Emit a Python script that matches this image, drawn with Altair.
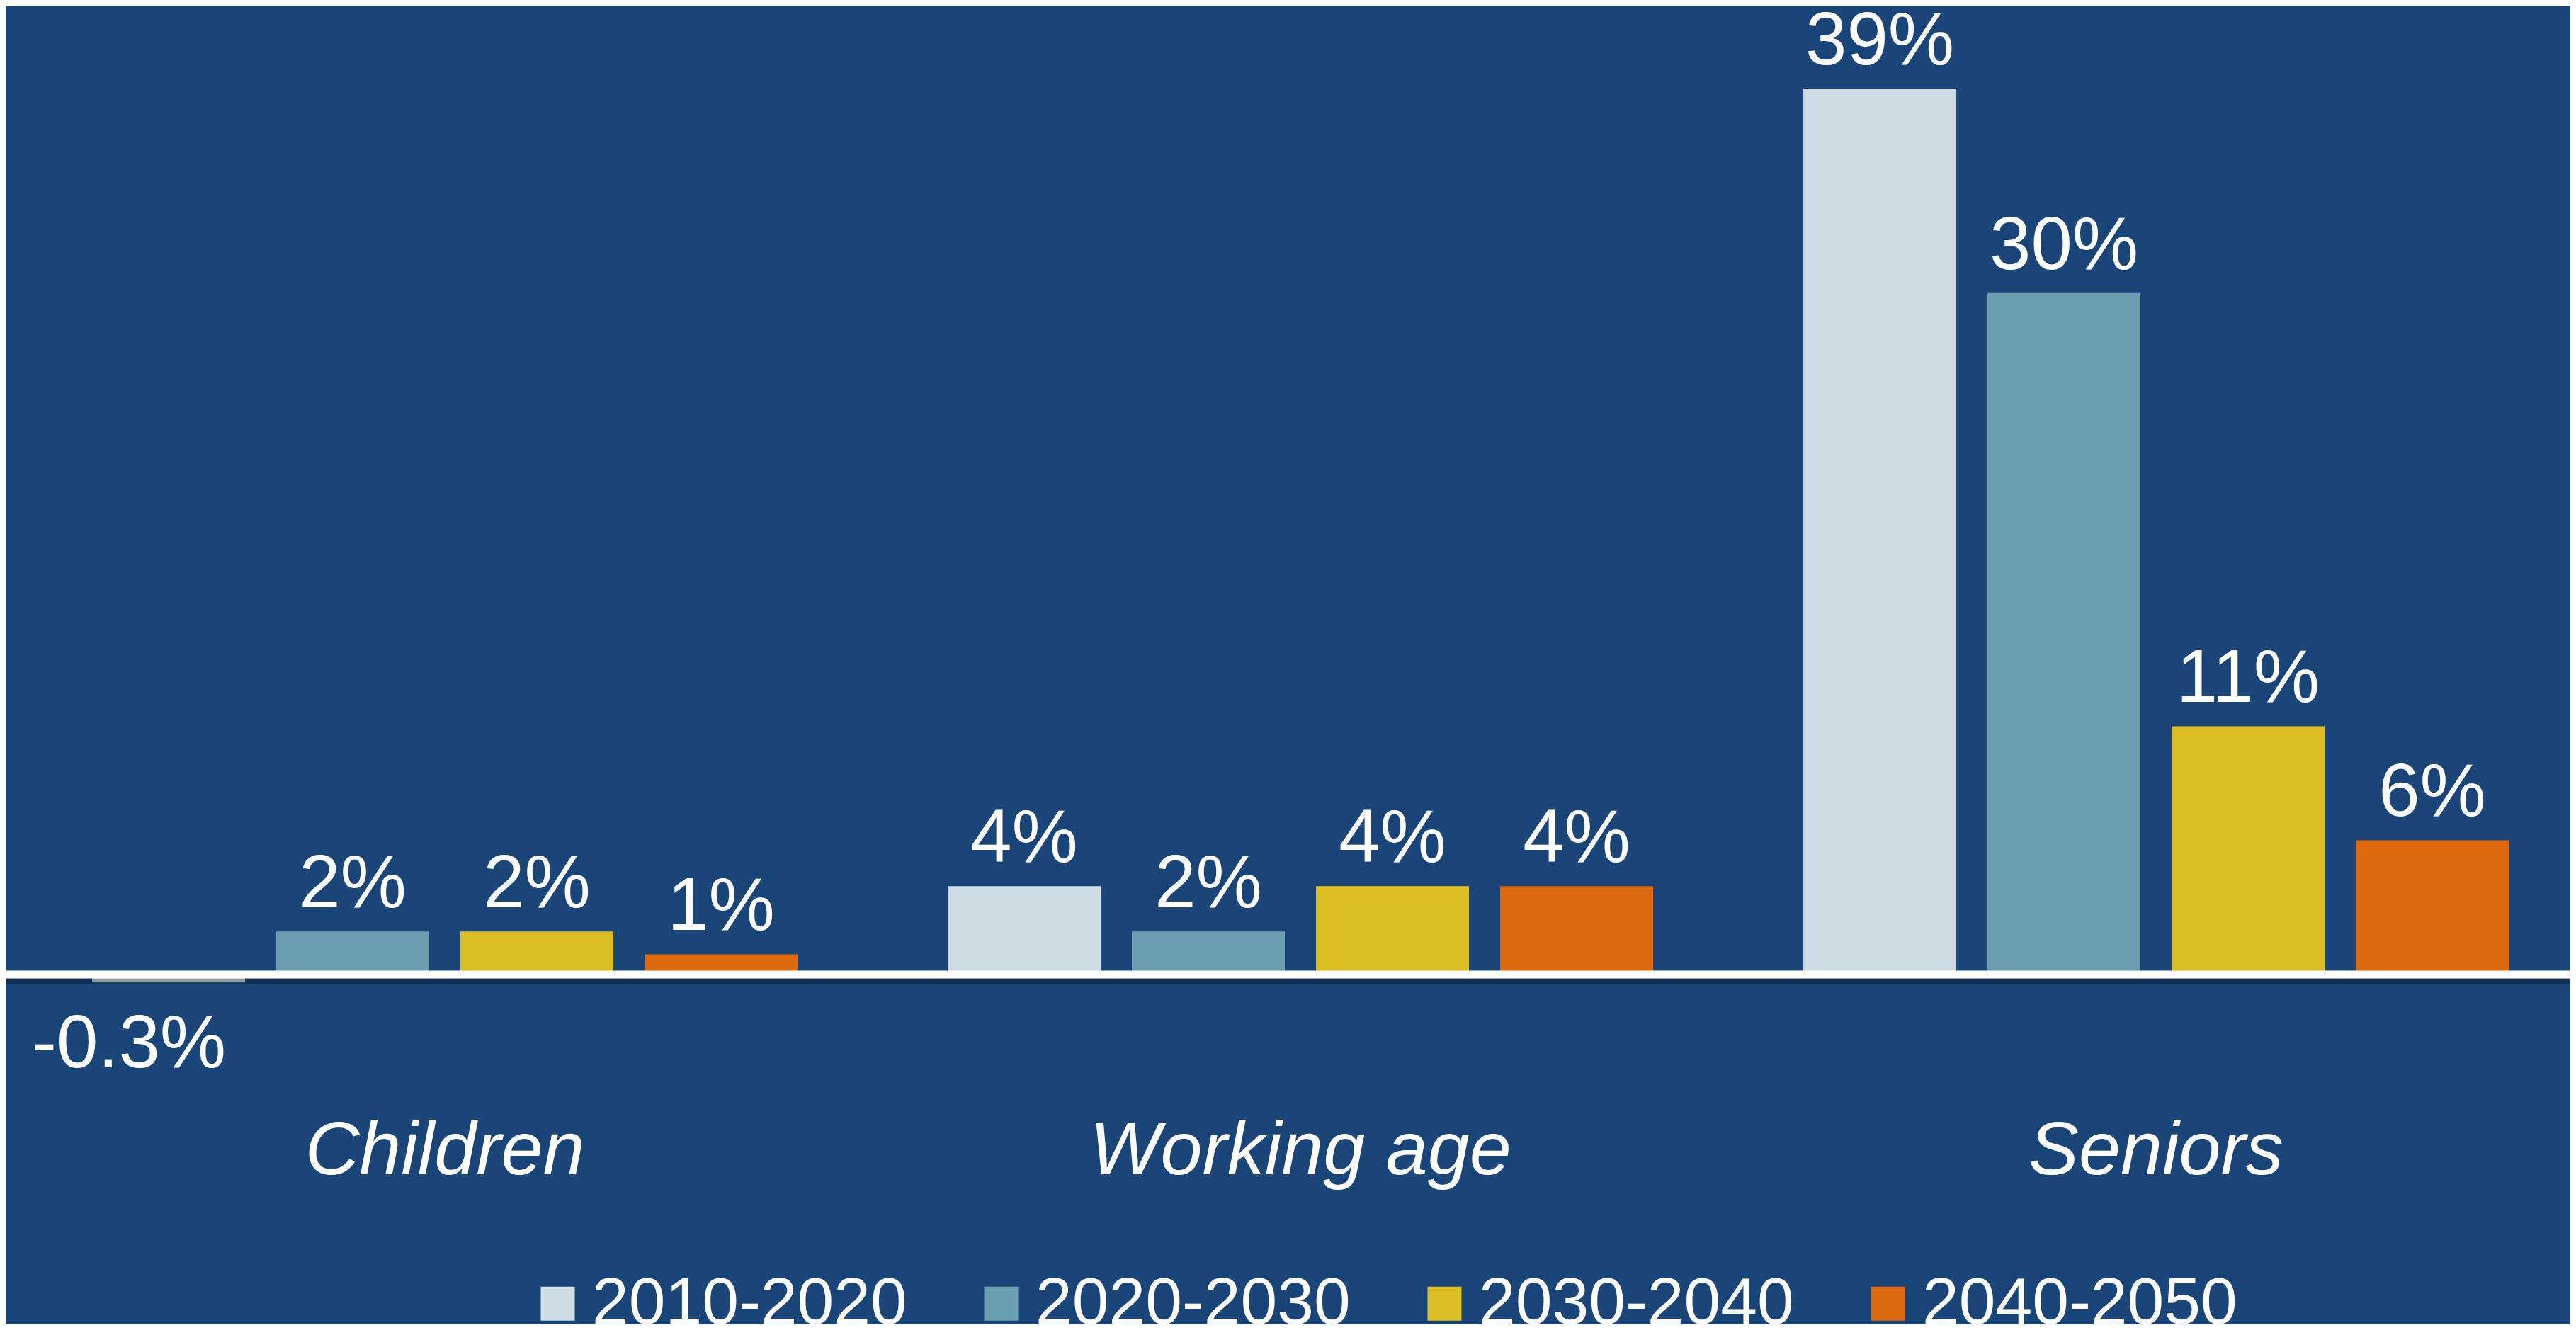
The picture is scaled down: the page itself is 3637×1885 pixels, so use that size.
import altair as alt
import pandas as pd

groups = ["Children", "Working age", "Seniors"]
periods = ["2010-2020", "2020-2030", "2030-2040", "2040-2050"]
colors = ["#cfdde5", "#6a9fb0", "#dbbe24", "#dd6a11"]

children = [-0.35, 1.89, 1.89, 0.89]
working = [3.89, 1.89, 3.89, 3.89]
seniors = [39.0, 30.0, 10.93, 5.91]

children_lbl = ["-0.3%", "2%", "2%", "1%"]
working_lbl = ["4%", "2%", "4%", "4%"]
seniors_lbl = ["39%", "30%", "11%", "6%"]

rows = []
for g, vals, lbls in zip(groups, [children, working, seniors],
                         [children_lbl, working_lbl, seniors_lbl]):
    for p, v, l in zip(periods, vals, lbls):
        rows.append({"group": g, "period": p, "value": v, "label": l})
df = pd.DataFrame(rows)

FONT = "Liberation Sans"
W, H = 3621, 1384
YDOM = [-0.5, 42.65]

x_enc = alt.X("group:N", sort=groups,
              scale=alt.Scale(paddingInner=0.1755, paddingOuter=0.0865, align=0.584),
              axis=alt.Axis(title=None, domain=False, ticks=False, tickSize=0,
                            grid=False, labelAngle=0, labelFont=FONT,
                            labelFontSize=106, labelFontStyle="italic",
                            labelColor="white", labelBaseline="alphabetic",
                            labelPadding=265, labelLimit=0))
xo_enc = alt.XOffset("period:N", sort=periods,
                     scale=alt.Scale(paddingInner=0.1692, paddingOuter=0))
y_enc = alt.Y("value:Q", scale=alt.Scale(domain=YDOM, nice=False, zero=False),
              axis=None)

base = alt.Chart(df)

bars = base.mark_bar().encode(
    x=x_enc, xOffset=xo_enc, y=y_enc, y2=alt.datum(0),
    color=alt.Color("period:N", sort=periods,
                    scale=alt.Scale(domain=periods, range=colors),
                    legend=alt.Legend(
                        title=None, orient="none", direction="horizontal",
                        columns=4, legendX=733, legendY=1786, padding=0,
                        symbolType="square", symbolSize=2304,
                        symbolStrokeWidth=0, labelFont=FONT,
                        labelFontSize=93, labelColor="white",
                        labelOffset=2, columnPadding=86,
                        labelLimit=0)),
)

zero_df = pd.DataFrame({"z": [0]})
zy = alt.Y("z:Q", scale=alt.Scale(domain=YDOM, nice=False, zero=False), axis=None)
shadow = alt.Chart(zero_df).mark_rule(color="black", opacity=0.3,
                                      strokeWidth=8, yOffset=9.5).encode(y=zy)
baseline = alt.Chart(zero_df).mark_rule(color="white", strokeWidth=11).encode(y=zy)

pos_text = base.transform_filter("datum.value >= 0").mark_text(
    font=FONT, fontSize=105, color="white", baseline="alphabetic",
    align="center", dy=-34).encode(
    x=alt.X("group:N", sort=groups), xOffset=xo_enc, y=y_enc, text="label:N")

neg_text = base.transform_filter("datum.value < 0").mark_text(
    font=FONT, fontSize=105, color="white", baseline="alphabetic",
    align="center", dy=120, dx=-56).encode(
    x=alt.X("group:N", sort=groups), xOffset=xo_enc, y=y_enc, text="label:N")

chart = alt.layer(bars, shadow, baseline, pos_text, neg_text).properties(
    width=W, height=H,
    autosize=alt.AutoSizeParams(type="none"),
    padding={"left": 0, "top": 0, "right": 0, "bottom": 478},
).configure(background="#1a4578").configure_view(strokeWidth=0)

chart.save("out.html", embed_options={"renderer": "svg", "actions": False})
